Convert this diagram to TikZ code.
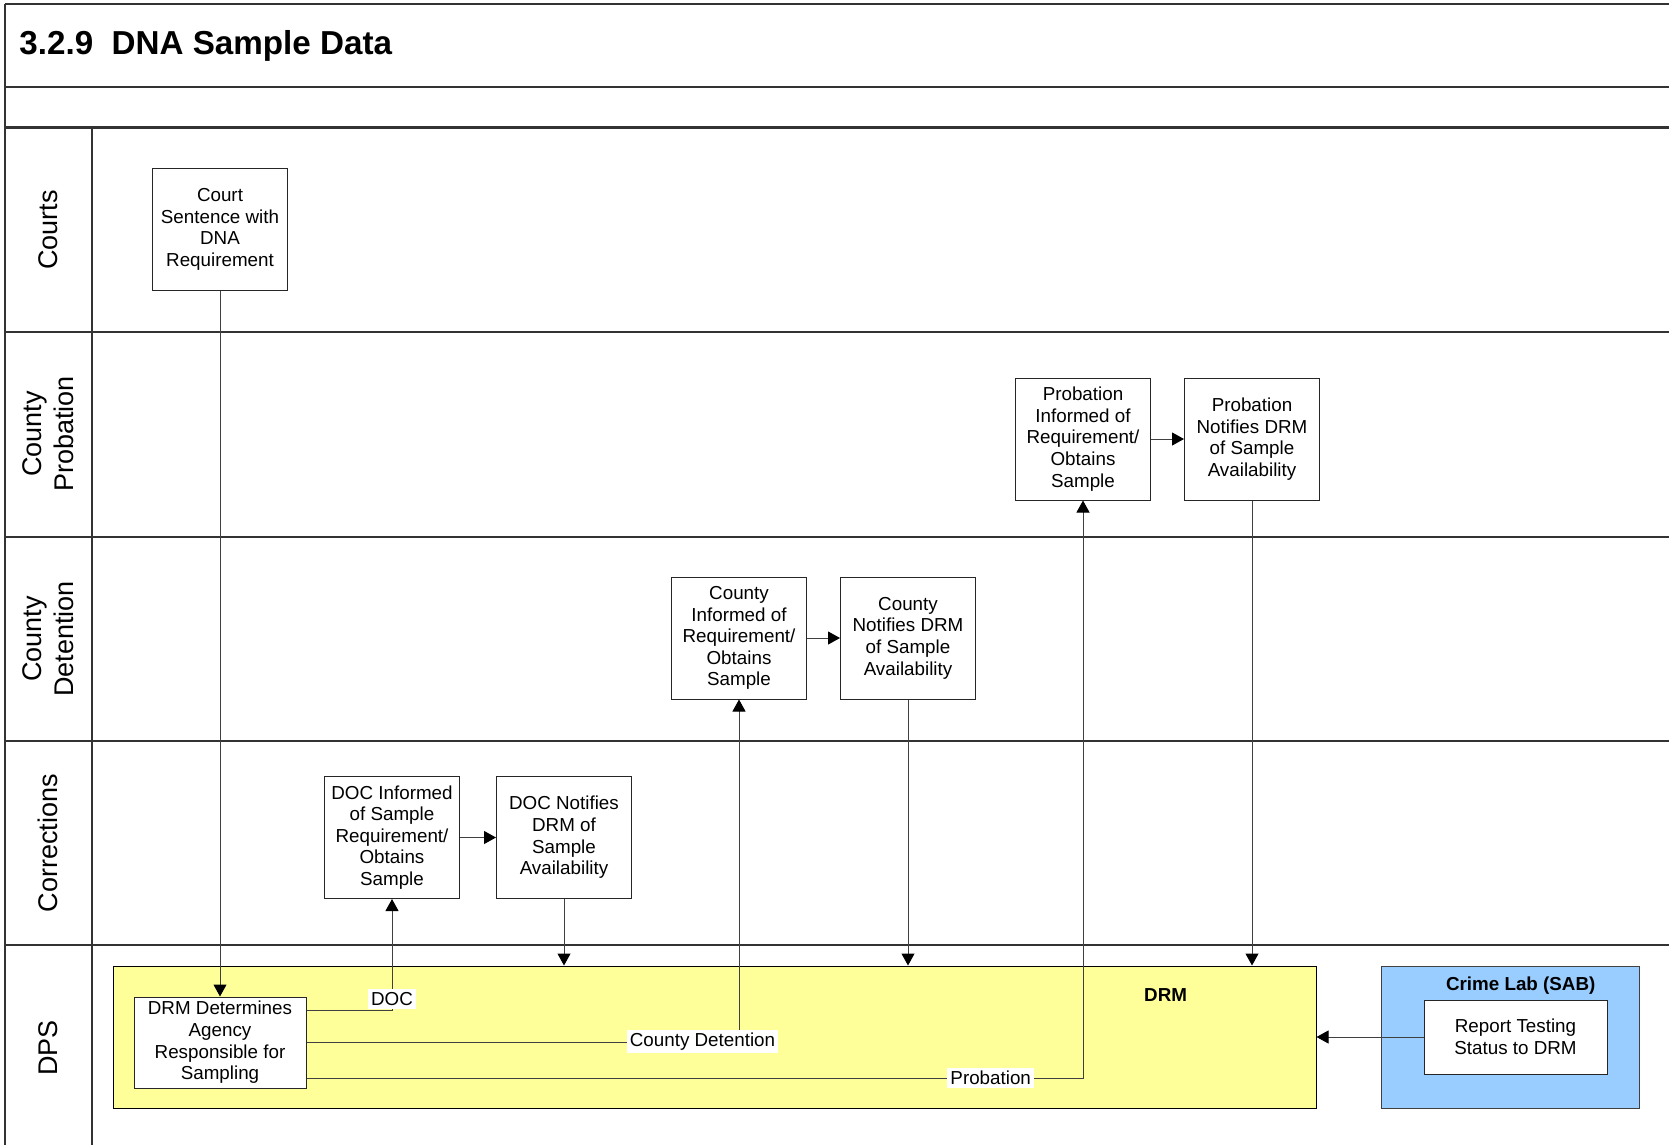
\documentclass[tikz,border=0pt]{standalone}
\usepackage{fontspec}
\setmainfont{Liberation Sans}
\usepackage{tikz}
\usetikzlibrary{arrows.meta, positioning}

\definecolor{drmyellow}{HTML}{FFFF99}
\definecolor{labblue}{HTML}{99CCFF}

\tikzset{
	lane/.style={draw=black!80, line width=1pt},
	procbox/.style={draw=black!85, line width=0.5pt, fill=white, align=center, inner sep=0pt,
		minimum width=67.5pt, minimum height=61pt, font={\fontsize{9.4pt}{10.8pt}\selectfont}},
	flow/.style={draw=black!75, line width=0.5pt, -{Triangle[length=6pt,width=6.5pt,color=black]}},
	lbl/.style={fill=white, inner sep=1.5pt, font={\fontsize{9.4pt}{10.8pt}\selectfont}},
	lanename/.style={rotate=90, align=center, font={\fontsize{13.5pt}{16pt}\selectfont}}
}

\begin{document}
\begin{tikzpicture}[x=0.5pt, y=-0.5pt]
				\useasboundingbox (0,0) rectangle (1669,1145);

				\draw[lane] (5,4.5) -- (1669,4.5);
				\draw[lane] (5,87) -- (1669,87);
				\draw[lane] (5,127.5) -- (1669,127.5);
				\draw[lane] (5,332) -- (1669,332);
				\draw[lane] (5,536.5) -- (1669,536.5);
				\draw[lane] (5,741) -- (1669,741);
				\draw[lane] (5,945) -- (1669,945);
				\draw[lane] (5,4.5) -- (5,1145);
				\draw[lane] (91.5,127.5) -- (91.5,1145);

				\node (Title) [anchor=base west, inner sep=0pt, font={\fontsize{16.6pt}{19pt}\selectfont\bfseries}] at (19,55) {3.2.9\ \ DNA Sample Data};

				\node (LaneCourts) [lanename] at (48,230) {Courts};
				\node (LaneProb) [lanename] at (48,434) {County\\Probation};
				\node (LaneDet) [lanename] at (48,639) {County\\Detention};
				\node (LaneCorr) [lanename] at (48,843) {Corrections};
				\node (LaneDPS) [lanename] at (48,1048) {DPS};

				\node (DRM) [draw=black, line width=0.5pt, fill=drmyellow, inner sep=0pt, minimum width=601.5pt, minimum height=71pt] at (714.5,1037) {};
				\node (DRMLbl) [font={\fontsize{9.4pt}{10.8pt}\selectfont\bfseries}] at (1165.6,995) {DRM};

				\node (Lab) [draw=black!75, line width=0.5pt, fill=labblue, inner sep=0pt, minimum width=129pt, minimum height=71pt] at (1510,1037) {};
				\node (LabLbl) [font={\fontsize{9.4pt}{10.8pt}\selectfont\bfseries}] at (1520.7,986) {Crime Lab (SAB)};
				\node (Report) [procbox, minimum width=91.5pt, minimum height=37pt] at (1515.5,1037) {Report Testing\\Status to DRM};

				\node (Court) [procbox] at (220,229.5) {Court\\Sentence with\\DNA\\Requirement};

				\node (ProbInf) [procbox] at (1083,439) {Probation\\Informed of\\Requirement/\\Obtains\\Sample};
				\node (ProbNot) [procbox] at (1252,439) {Probation\\Notifies DRM\\of Sample\\Availability};
				\draw[flow] (ProbInf) -- (ProbNot);

				\node (CtyInf) [procbox] at (739,638) {County\\Informed of\\Requirement/\\Obtains\\Sample};
				\node (CtyNot) [procbox] at (908,638) {County\\Notifies DRM\\of Sample\\Availability};
				\draw[flow] (CtyInf) -- (CtyNot);

				\node (DOCInf) [procbox] at (392,837.5) {DOC Informed\\of Sample\\Requirement/\\Obtains\\Sample};
				\node (DOCNot) [procbox] at (564,837.5) {DOC Notifies\\DRM of\\Sample\\Availability};
				\draw[flow] (DOCInf) -- (DOCNot);

				\node (DRMDet) [procbox, minimum width=86pt, minimum height=45.5pt] at (220,1042.5) {DRM Determines\\Agency\\Responsible for\\Sampling};
				\draw[flow] (Court) -- (DRMDet);

				\coordinate (DOCBend) at (392,1010);
				\draw[flow] (DRMDet.east |- DOCBend) -- (DOCBend) -- (DOCInf);
				\node (DOCLbl) [lbl] at (392,999) {DOC};

				\coordinate (CtyBend) at (739,1042);
				\draw[flow] (DRMDet.east |- CtyBend) -- (CtyBend) -- (CtyInf);
				\node (CtyLbl) [lbl] at (702.5,1041.5) {County Detention};

				\coordinate (ProbBend) at (1083,1078);
				\draw[flow] (DRMDet.east |- ProbBend) -- (ProbBend) -- (ProbInf);
				\node (ProbLbl) [lbl] at (990.7,1078) {Probation};

				\draw[flow] (DOCNot) -- (DOCNot |- DRM.north);
				\draw[flow] (CtyNot) -- (CtyNot |- DRM.north);
				\draw[flow] (ProbNot) -- (ProbNot |- DRM.north);
				\draw[flow] (Report) -- (Report -| DRM.east);
\end{tikzpicture}
\end{document}
